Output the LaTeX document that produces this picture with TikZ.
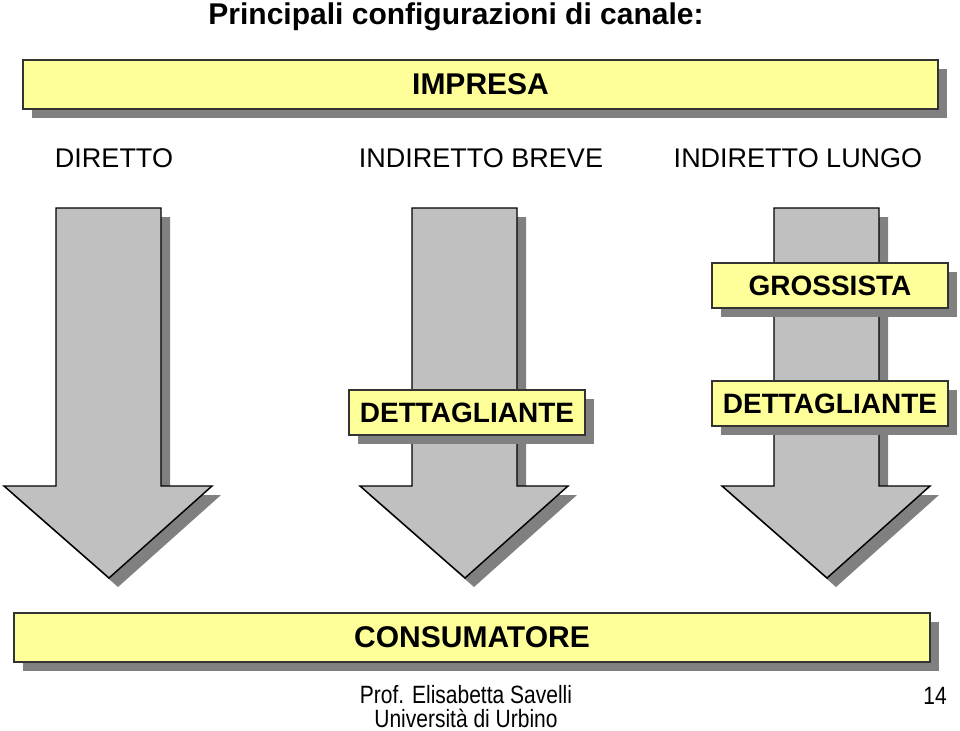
\documentclass[tikz,border=0pt]{standalone}
\usepackage{fontspec}
\setmainfont{Liberation Sans}
\usetikzlibrary{shadows}
\definecolor{boxyellow}{RGB}{255,255,153}
\definecolor{arrowgray}{RGB}{192,192,192}
\definecolor{shadowgray}{RGB}{128,128,128}

\begin{document}
\begin{tikzpicture}[x=0.75pt,y=0.75pt,yscale=-1,xscale=1,
    labelbox/.style={draw=black!80, line width=0.8pt, fill=boxyellow, inner sep=0pt,
      font=\bfseries\fontsize{21}{25}\selectfont,
      drop shadow={shadow xshift=6.75pt, shadow yshift=-6.75pt, fill=shadowgray, opacity=1}},
    widebox/.style={labelbox, font=\bfseries\fontsize{22.5}{27}\selectfont, minimum height=36.75pt},
    channel/.style={anchor=base, font=\fontsize{20.25}{24}\selectfont}]
    \useasboundingbox (0,0) rectangle (960,731);

    % Block Arrows
    \foreach \dx in {0,356,718}{
      \fill[shadowgray, shift={(\dx+9,9)}] (56,208) -- (161,208) -- (161,486) -- (212,486) -- (109,578) -- (4,486) -- (56,486) -- cycle;
      \draw[fill=arrowgray, line width=1.1pt, shift={(\dx,0)}] (56,208) -- (161,208) -- (161,486) -- (212,486) -- (109,578) -- (4,486) -- (56,486) -- cycle;
    }

    % Title
    \node[anchor=base, font=\bfseries\fontsize{22.5}{27}\selectfont] (title) at (456,25) {Principali configurazioni di canale:};

    % Boxes
    \node[widebox, minimum width=686.25pt] (impresa) at (480.5,84.5) {IMPRESA};
    \node[labelbox, minimum width=177pt, minimum height=33.75pt] (grossista) at (830,285.5) {GROSSISTA};
    \node[labelbox, minimum width=177pt, minimum height=33.75pt] (dettbreve) at (467,412.5) {DETTAGLIANTE};
    \node[labelbox, minimum width=177pt, minimum height=33.75pt] (dettlungo) at (830,403.5) {DETTAGLIANTE};
    \node[widebox, minimum width=687pt] (consumatore) at (472,637.5) {CONSUMATORE};

    % Text Node
    \node[channel] (diretto) at (114,168) {DIRETTO};
    % Text Node
    \node[channel] (breve) at (481,168) {INDIRETTO BREVE};
    % Text Node
    \node[channel] (lungo) at (798,168) {INDIRETTO LUNGO};

    % Footer
    \node[anchor=base, align=center, font=\fontsize{18.75}{17.5}\selectfont] (autore) at (466,727) {\scalebox{0.84}[1]{Prof. Elisabetta Savelli}\\\scalebox{0.84}[1]{Università di Urbino}};
    \node[anchor=base, font=\fontsize{18.75}{17.5}\selectfont] (pagina) at (935,704) {\scalebox{0.84}[1]{14}};
\end{tikzpicture}
\end{document}
